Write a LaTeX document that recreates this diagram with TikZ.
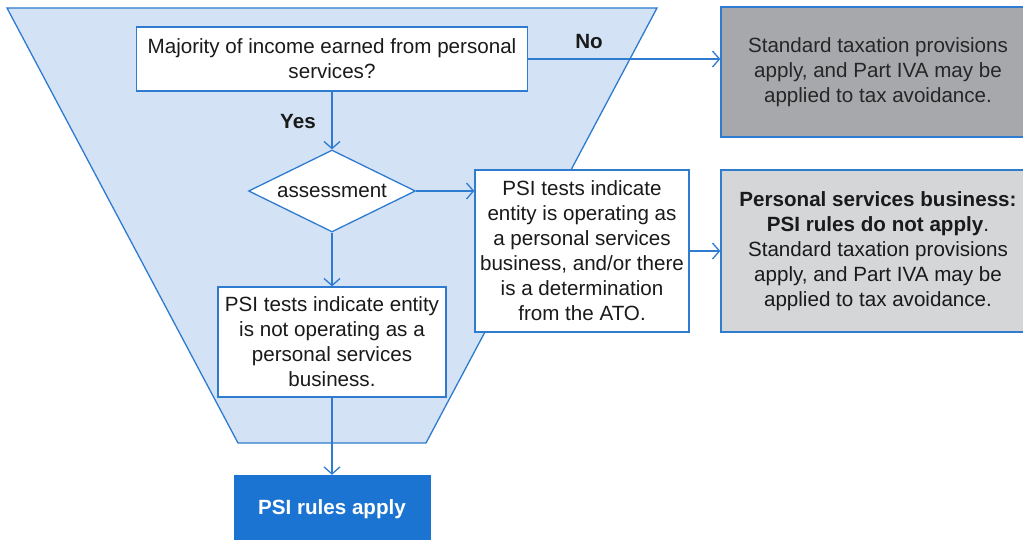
\documentclass[tikz,border=0pt]{standalone}
\usepackage{fontspec}
\setmainfont{Liberation Sans}
\usetikzlibrary{shapes.geometric,arrows.meta}
\definecolor{lineblue}{HTML}{2E7BCF}
\definecolor{funnelfill}{HTML}{D3E3F5}
\definecolor{darkgray1}{HTML}{A7A8AB}
\definecolor{lightgray1}{HTML}{D5D6D8}
\definecolor{psiblue}{HTML}{1B74D1}
\definecolor{txt}{HTML}{1A1A1A}
\begin{document}
\begin{tikzpicture}[x=1pt,y=-1pt,
  every node/.style={font=\fontsize{20.6}{25}\selectfont, text=txt},
  box/.style={draw=lineblue, line width=1.3pt, fill=white, align=center, inner sep=0pt},
  graybox/.style={draw=lineblue, line width=1.3pt, align=center, inner sep=0pt},
  arr/.style={draw=lineblue, line width=1.3pt, -{Straight Barb[length=7pt,width=16pt,line width=1.3pt]}},
  lbl/.style={font=\fontsize{20.6}{25}\selectfont\bfseries}
]
\useasboundingbox (0,0) rectangle (1023,540);
\clip (0,0) rectangle (1023,540);
% funnel
\draw[draw=lineblue, line width=1.3pt, fill=funnelfill] (7,8) -- (657,8) -- (426,443) -- (238,443) -- cycle;
% nodes
\node[box, minimum width=391pt, minimum height=64pt] (q) at (332,59) {Majority of income earned from personal\\services?};
\node[graybox, fill=darkgray1, minimum width=314pt, minimum height=130pt, text=black!85] (g1) at (878,72) {Standard taxation provisions\\apply, and Part IVA may be\\applied to tax avoidance.};
\node[draw=lineblue, line width=1.3pt, fill=white, diamond, aspect=2.04, minimum width=167pt, minimum height=82pt, inner sep=0pt] (d) at (332,191) {assessment};
\node[box, minimum width=214pt, minimum height=162pt] (b2) at (582,251) {PSI tests indicate\\entity is operating as\\a personal services\\business, and/or there\\is a determination\\from the ATO.};
\node[graybox, fill=lightgray1, minimum width=314pt, minimum height=162pt] (g2) at (878,251) {\textbf{Personal services business:}\\\textbf{PSI rules do not apply}.\\Standard taxation provisions\\apply, and Part IVA may be\\applied to tax avoidance.};
\node[box, minimum width=228pt, minimum height=110pt] (b3) at (332,342) {PSI tests indicate entity\\is not operating as a\\personal services\\business.};
\node[draw=psiblue, fill=psiblue, minimum width=196pt, minimum height=68pt, inner sep=0pt, text=white, font=\fontsize{20.6}{25}\selectfont\bfseries] (r) at (332,509) {PSI rules apply};
% labels
\node[lbl] (no) at (589,42) {No};
\node[lbl] (yes) at (298,122) {Yes};
% connectors
\draw[arr] (q.east) -- (q.east -| g1.west);
\draw[arr] (q.south) -- (d.north);
\draw[arr] (d.east) -- (d.east -| b2.west);
\draw[arr] (b2.east) -- (b2.east -| g2.west);
\draw[arr] (d.south) -- (b3.north);
\draw[arr] (b3.south) -- (r.north);
\end{tikzpicture}
\end{document}
